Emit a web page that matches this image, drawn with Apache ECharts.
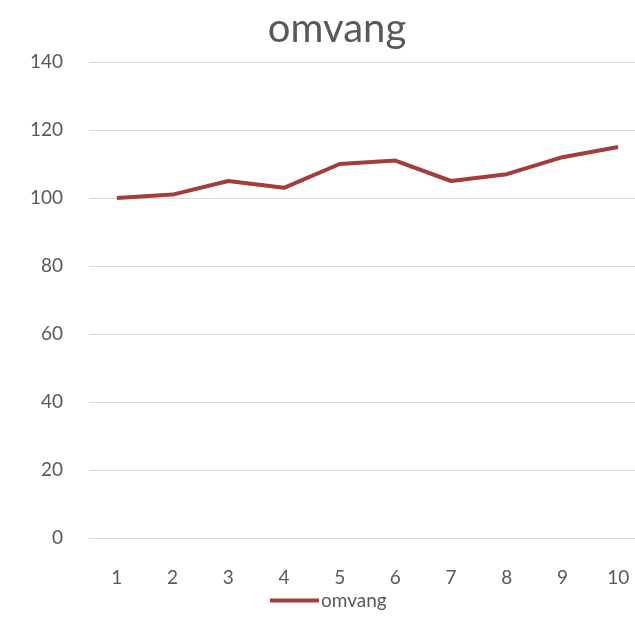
<!DOCTYPE html>
<html>
<head>
<meta charset="utf-8">
<script src="https://cdn.jsdelivr.net/npm/echarts@6/dist/echarts.min.js"></script>
<style>
  html, body { margin: 0; padding: 0; background: #fff; }
  #chart { width: 635px; height: 619px; }
</style>
</head>
<body>
<div id="chart"></div>
<script>
// data
const categories = ["1", "2", "3", "4", "5", "6", "7", "8", "9", "10"];
const omvang = [100, 101, 105, 103, 110, 111, 105, 107, 112, 115];

const fontFamily = "Lato, 'Open Sans', sans-serif";
const textColor = "#595959";

const myChart = echarts.init(document.getElementById("chart"));
myChart.setOption({
  animation: false,
  title: {
    text: "omvang",
    left: 332,
    top: 4,
    textAlign: "center",
    textStyle: { color: textColor, fontSize: 40, fontWeight: "normal", fontFamily: fontFamily },
  },
  legend: {
    bottom: 4,
    left: 265,
    itemWidth: 49,
    itemHeight: 4,
    itemGap: 4,
    icon: "rect",
    textStyle: { color: textColor, fontSize: 19, fontFamily: fontFamily, padding: [0, 0, 0, -3] },
    data: ["omvang"],
  },
  grid: { left: 89, top: 62, bottom: 81, right: -11, outerBoundsMode: "none", containLabel: false },
  xAxis: {
    type: "category",
    data: categories,
    boundaryGap: true,
    axisLine: { lineStyle: { color: "#d9d9d9" } },
    axisTick: { show: false },
    axisLabel: { color: textColor, fontSize: 19, fontFamily: fontFamily, margin: 30 },
  },
  yAxis: {
    type: "value",
    min: 0,
    max: 140,
    interval: 20,
    axisLine: { show: false },
    axisTick: { show: false },
    splitLine: { lineStyle: { color: "#d9d9d9", width: 1 } },
    axisLabel: { color: textColor, fontSize: 19, fontFamily: fontFamily, margin: 26 },
  },
  series: [
    {
      name: "omvang",
      type: "line",
      data: omvang,
      symbol: "none",
      lineStyle: { color: "#a33c3c", width: 4 },
      itemStyle: { color: "#a33c3c" },
    },
  ],
});
</script>
</body>
</html>
